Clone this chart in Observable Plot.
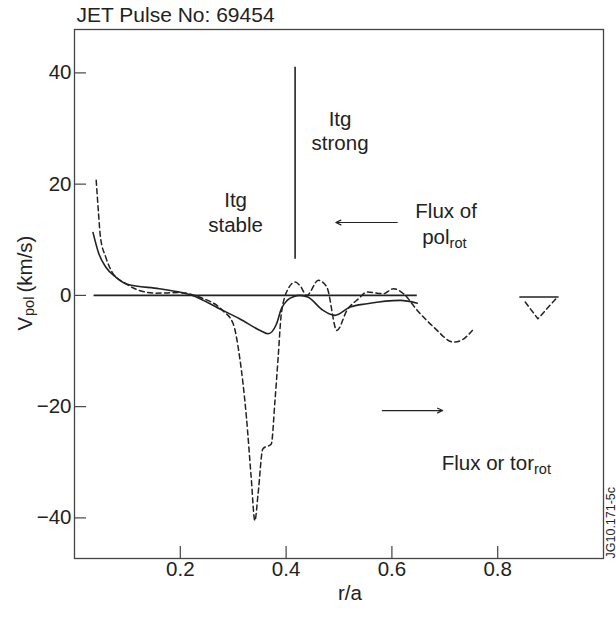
<!DOCTYPE html>
<html><head><meta charset="utf-8">
<script src="https://cdn.jsdelivr.net/npm/d3@7"></script>
<script src="https://cdn.jsdelivr.net/npm/@observablehq/plot@0.6"></script>
<style>body{margin:0;background:#fff}</style>
</head><body><div id="chart"></div>
<script>
const title = "JET Pulse No: 69454";
const xLabel = "r/a";
const sideCode = "JG10.171-5c";
const xTicks = [0.2, 0.4, 0.6, 0.8];
const yTicks = [-40, -20, 0, 20, 40];

// solid curve (two segments)
const solidR  = [0.035, 0.046, 0.059, 0.078, 0.1, 0.16, 0.198, 0.223, 0.274, 0.312, 0.353, 0.366, 0.382, 0.391, 0.402, 0.415, 0.426, 0.441, 0.47, 0.492, 0.521, 0.553, 0.616, 0.648];
const solidV  = [11.3, 7.5, 5.1, 3.3, 2.0, 1.2, 0.6, 0, -2.4, -4.2, -6.4, -6.9, -5.1, -2.4, -0.9, -0.2, 0, -0.3, -2.7, -3.6, -2.1, -1.5, -0.9, -1.4];
const solidR2 = [0.842, 0.914];
const solidV2 = [-0.3, -0.3];

// dashed curve (two segments)
const dashR  = [0.041, 0.045, 0.049, 0.059, 0.071, 0.097, 0.122, 0.154, 0.198, 0.236, 0.28, 0.3, 0.312, 0.325, 0.334, 0.341, 0.347, 0.356, 0.372, 0.379, 0.385, 0.391, 0.404, 0.417, 0.426, 0.439, 0.461, 0.477, 0.496, 0.515, 0.537, 0.553, 0.584, 0.603, 0.622, 0.648, 0.679, 0.717, 0.736, 0.752];
const dashV  = [20.7, 15.3, 10.5, 6.9, 4.2, 2.1, 0.9, 0.4, 0.5, -0.3, -2.7, -5.1, -11.0, -21.9, -32.7, -40.5, -35.7, -27.6, -26.7, -18.9, -11.1, -3.3, 1.2, 2.4, 1.8, 0, 2.7, 1.5, -6.3, -2.7, -0.6, 0.6, 0.3, 1.2, 0.3, -2.7, -5.7, -8.4, -7.8, -6.3];
const dashR2 = [0.852, 0.876, 0.913];
const dashV2 = [-1.2, -4.2, -0.3];

// zero reference line and boundary line
const zeroR = [0.037, 0.648];
const boundaryR = 0.417;
const boundaryV = [6.5, 41];

// annotation texts (data coordinates)
const notesMain = [
  {text: "Itg\nstable", r: 0.3045, v: 15.1},
  {text: "Itg\nstrong", r: 0.502, v: 29.7},
  {text: "Flux of", r: 0.7024, v: 15.3}
];
const notesBase = [
  {text: "pol", r: 0.709, v: 10.4},
  {text: "Flux or tor", r: 0.8686, v: -30.2}
];
const notesSub = [
  {text: "rot", r: 0.709, v: 10.4},
  {text: "rot", r: 0.8686, v: -30.2}
];
const arrows = [
  {r1: 0.610, r2: 0.494, v: 13.1},
  {r1: 0.582, r2: 0.696, v: -20.7}
];

const toPts = (R, V) => R.map((r, i) => ({r, v: V[i]}));
const ink = "#222";

const chart = Plot.plot({
  width: 616, height: 619,
  marginLeft: 74, marginTop: 29, marginRight: 13, marginBottom: 61,
  style: {fontFamily: "'Liberation Sans', Arial, sans-serif", fontSize: "20.5px", color: ink, background: "#fff"},
  x: {domain: [0, 1]},
  y: {domain: [-47.3, 47.8]},
  marks: [
    Plot.frame({stroke: "#444", strokeWidth: 1.3}),
    Plot.axisX({ticks: xTicks, tickSize: -12, tickPadding: 15, label: null, stroke: "#444", strokeWidth: 1.2}),
    Plot.axisY({ticks: yTicks, tickSize: -12, tickPadding: 15, label: null, stroke: "#444", strokeWidth: 1.2}),
    Plot.ruleY([0], {x1: zeroR[0], x2: zeroR[1], stroke: ink, strokeWidth: 1.6}),
    Plot.ruleX([boundaryR], {y1: boundaryV[0], y2: boundaryV[1], stroke: ink, strokeWidth: 1.6}),
    Plot.line(toPts(solidR, solidV), {x: "r", y: "v", curve: "monotone-x", stroke: ink, strokeWidth: 1.6}),
    Plot.line(toPts(solidR2, solidV2), {x: "r", y: "v", stroke: ink, strokeWidth: 1.6}),
    Plot.line(toPts(dashR, dashV), {x: "r", y: "v", curve: "monotone-x", stroke: ink, strokeWidth: 1.5, strokeDasharray: "5,3.5"}),
    Plot.line(toPts(dashR2, dashV2), {x: "r", y: "v", stroke: ink, strokeWidth: 1.5, strokeDasharray: "5,3.5"}),
    Plot.arrow(arrows, {x1: "r1", x2: "r2", y1: "v", y2: "v", stroke: ink, strokeWidth: 1.2, headLength: 7, headAngle: 50}),
    Plot.text(notesMain, {x: "r", y: "v", text: "text", fontSize: 20.5, lineHeight: 1.2, fill: ink}),
    Plot.text(notesBase, {x: "r", y: "v", text: "text", fontSize: 20.5, textAnchor: "end", fill: ink}),
    Plot.text(notesSub, {x: "r", y: "v", text: "text", fontSize: 14.5, textAnchor: "start", dy: 6, fill: ink}),
    // title
    Plot.text([title], {text: d => d, frameAnchor: "top-left", lineAnchor: "middle", textAnchor: "start", dx: 2, dy: -14, fontSize: 21, fill: ink}),
    // x label
    Plot.text([xLabel], {text: d => d, frameAnchor: "bottom", lineAnchor: "middle", dx: 11, dy: 35, fontSize: 20.5, fill: ink}),
    // y label: V_pol (km/s)
    Plot.text(["V"], {text: d => d, frameAnchor: "left", lineAnchor: "middle", rotate: -90, textAnchor: "start", dx: -49, dy: 36.5, fontSize: 20.5, fill: ink}),
    Plot.text(["pol"], {text: d => d, frameAnchor: "left", lineAnchor: "middle", rotate: -90, textAnchor: "start", dx: -45, dy: 22, fontSize: 14.5, fill: ink}),
    Plot.text(["(km/s)"], {text: d => d, frameAnchor: "left", lineAnchor: "middle", rotate: -90, textAnchor: "start", dx: -49, dy: -1.5, fontSize: 20.5, fill: ink}),
    // side code
    Plot.text([sideCode], {text: d => d, frameAnchor: "bottom-right", lineAnchor: "middle", rotate: -90, textAnchor: "start", dx: 7, dy: 0, fontSize: 12.5, fill: ink})
  ]
});
document.getElementById("chart").appendChild(chart);
</script>
</body></html>
